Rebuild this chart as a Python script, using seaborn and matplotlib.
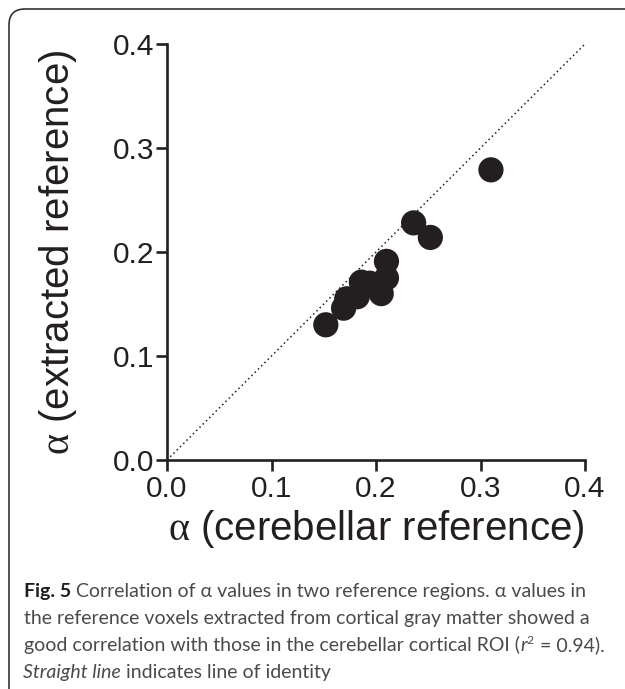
import matplotlib
matplotlib.use("Agg")
import matplotlib.pyplot as plt
import seaborn as sns
import pandas as pd
from matplotlib.transforms import IdentityTransform
from matplotlib.patches import FancyBboxPatch

# ---- data ----
alpha_cerebellar = [0.152, 0.169, 0.172, 0.182, 0.186, 0.194, 0.205, 0.210, 0.210, 0.236, 0.252, 0.310]
alpha_extracted = [0.130, 0.146, 0.155, 0.157, 0.171, 0.170, 0.160, 0.175, 0.191, 0.228, 0.214, 0.279]
tick_values = [0.0, 0.1, 0.2, 0.3, 0.4]
tick_labels = ["0.0", "0.1", "0.2", "0.3", "0.4"]
identity_line = [0.0, 0.4]

df = pd.DataFrame({"x": alpha_cerebellar, "y": alpha_extracted})

sns.set_style("ticks")
plt.rcParams["font.family"] = ["Liberation Sans", "DejaVu Sans"]
plt.rcParams["mathtext.fontset"] = "custom"
plt.rcParams["mathtext.rm"] = "Liberation Serif"
plt.rcParams["mathtext.it"] = "Liberation Serif"

W, H = 625, 689
fig = plt.figure(figsize=(W / 100, H / 100), dpi=100)
fig.patch.set_facecolor("white")

ink = "#231f20"
ax = fig.add_axes([167 / W, (H - 460) / H, 418 / W, 416 / H])
ax.plot(identity_line, identity_line, linestyle=(0, (1, 2)), lw=1.1, color=ink, zorder=1)
sns.scatterplot(data=df, x="x", y="y", ax=ax, s=330, color=ink, linewidth=0,
                edgecolor="none", zorder=3, clip_on=False, legend=False)

ax.set_xlim(0, 0.4)
ax.set_ylim(0, 0.4)
ax.set_xticks(tick_values)
ax.set_xticklabels(tick_labels)
ax.set_yticks(tick_values)
ax.set_yticklabels(tick_labels)
for s in ["top", "right"]:
    ax.spines[s].set_visible(False)
for s in ["left", "bottom"]:
    ax.spines[s].set_linewidth(1.9)
    ax.spines[s].set_color(ink)
ax.tick_params(axis="both", direction="out", length=8, width=1.9, color=ink,
               labelsize=21.5, labelcolor=ink)
ax.tick_params(axis="x", pad=3)
ax.tick_params(axis="y", pad=1.0)

ax.set_xlabel(r"$\mathrm{\alpha}$ (cerebellar reference)", fontsize=29, color=ink)
ax.set_ylabel(r"$\mathrm{\alpha}$ (extracted reference)", fontsize=29, color=ink)
ax.xaxis.set_label_coords(0.5, -0.115)
ax.yaxis.set_label_coords(-0.21, 0.5)

# ---- border ----
border = FancyBboxPatch((9, -20), 660, H - 9 + 20, boxstyle="round,pad=0,rounding_size=16",
                        transform=IdentityTransform(), fill=False, lw=1.2,
                        edgecolor="#333333", figure=fig)
fig.patches.append(border)

# ---- caption ----
fig.canvas.draw()
renderer = fig.canvas.get_renderer()
cap_color = "#4a4a4a"
cap_font = ["Lato", "DejaVu Sans"]

# pick the caption size so that the second line spans the same width as in the reference
probe = fig.text(0, 0, "the reference voxels extracted from cortical gray matter showed a",
                 family=cap_font, fontsize=10, transform=IdentityTransform())
pw = probe.get_window_extent(renderer).width
probe.remove()
cap_size = 10 * 566 / pw


def put(x, y, s, **kw):
    kw.setdefault("color", cap_color)
    kw.setdefault("family", cap_font)
    kw.setdefault("fontsize", cap_size)
    t = fig.text(x, y, s, transform=IdentityTransform(), va="baseline", ha="left", **kw)
    bb = t.get_window_extent(renderer)
    return bb.x1


x0 = 24
y1, y2, y3, y4 = H - 597, H - 624, H - 651, H - 678
x = put(x0, y1, "Fig. 5", fontweight="bold", color="#1e1e1e")
put(x, y1, " Correlation of α values in two reference regions. α values in")
put(x0, y2, "the reference voxels extracted from cortical gray matter showed a")
x = put(x0, y3, "good correlation with those in the cerebellar cortical ROI (")
x = put(x, y3, "r", style="italic")
x = put(x, y3 + 7, "2", fontsize=cap_size * 0.62)
put(x + 1, y3, " = 0.94).")
x = put(x0 - 1, y4, "Straight line", style="italic")
put(x, y4, " indicates line of identity")

fig.savefig("out.png", dpi=100)
